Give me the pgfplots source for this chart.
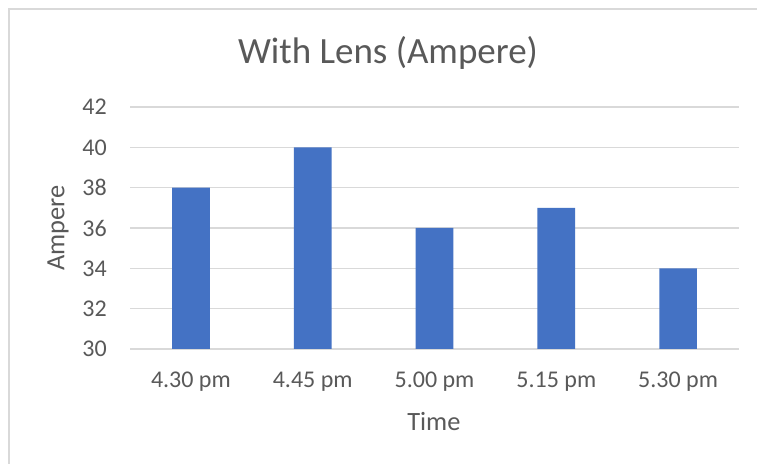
\documentclass[border=0pt]{standalone}
\usepackage{pgfplots}
\pgfplotsset{compat=1.18}
\usepackage{fontspec}
\setmainfont{Carlito}
\definecolor{txt}{HTML}{595959}
\definecolor{grd}{HTML}{D9D9D9}
\definecolor{bar}{HTML}{4472C4}
\begin{document}
\begin{tikzpicture}[x=1bp,y=1bp]
\useasboundingbox (0,0) rectangle (757,464);
\fill[white] (0,0) rectangle (757,464);
\draw[grd, line width=1.5bp] (9,0) -- (9,455) -- (757,455);
\begin{axis}[
  at={(130bp,115bp)}, anchor=south west,
  scale only axis, width=609bp, height=242bp,
  xmin=-0.5, xmax=4.5, ymin=30, ymax=42,
  ytick={30,32,34,36,38,40,42},
  xtick={0,1,2,3,4},
  xticklabels={4.30 pm,4.45 pm,5.00 pm,5.15 pm,5.30 pm},
  axis line style={draw=none},
  major tick length=0pt,
  ymajorgrids, grid style={grd, line width=1.2bp},
  /pgf/number format/assume math mode=true,
  ticklabel style={font=\fontsize{24bp}{28bp}\selectfont, text=txt},
  xticklabel style={anchor=base, yshift=-39bp},
  yticklabel style={anchor=east, inner sep=0pt},
  yticklabel shift=23bp,
  title={With Lens (Ampere)},
  title style={font=\fontsize{37bp}{44bp}\selectfont, text=txt, at={(rel axis cs:0.4236,1.155)}, anchor=base},
  xlabel={Time},
  xlabel style={font=\fontsize{26.4bp}{31bp}\selectfont, text=txt, at={(rel axis cs:0.499,-0.3376)}, anchor=base},
  ylabel={Ampere},
  ylabel style={font=\fontsize{26.4bp}{31bp}\selectfont, text=txt, at={(rel axis cs:-0.118,0.5)}, anchor=center, rotate=0},
]
\addplot[ybar, bar width=37.7bp, bar shift=0pt, fill=bar, draw=none] coordinates {(0,38) (1,40) (2,36) (3,37) (4,34)};
\end{axis}
\end{tikzpicture}
\end{document}
